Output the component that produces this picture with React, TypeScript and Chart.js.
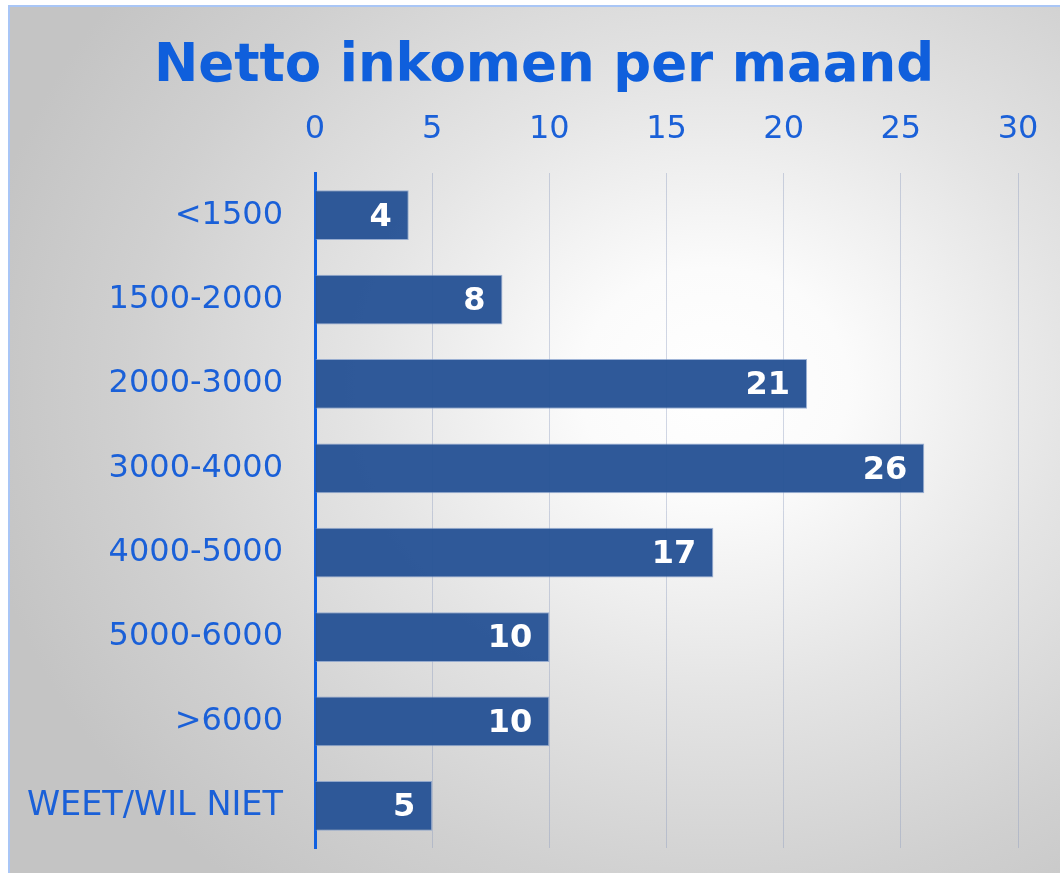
import React, { useEffect, useRef } from "react";
import { Chart, registerables } from "chart.js";

Chart.register(...registerables);

const categories = ["<1500", "1500-2000", "2000-3000", "3000-4000", "4000-5000", "5000-6000", ">6000", "WEET/WIL NIET"];
const values = [4, 8, 21, 26, 17, 10, 10, 5];
const xTicks = [0, 5, 10, 15, 20, 25, 30];
const titleText = "Netto inkomen per maand";

const BLUE = "#0f5fdc";
const BAR = "rgba(40,84,150,0.97)";

const valueLabels = {
  id: "valueLabels",
  afterDatasetsDraw(chart: any) {
    const ctx = chart.ctx;
    const meta = chart.getDatasetMeta(0);
    ctx.save();
    ctx.font = "bold 32px 'DejaVu Sans'";
    ctx.fillStyle = "#ffffff";
    ctx.textAlign = "right";
    ctx.textBaseline = "middle";
    meta.data.forEach((bar: any, i: number) => {
      ctx.fillText(String(values[i]), bar.x - 17, bar.y + 2);
    });
    ctx.restore();
  },
};

const titleDraw = {
  id: "titleDraw",
  afterDraw(chart: any) {
    const ctx = chart.ctx;
    ctx.save();
    ctx.font = "bold 53px 'DejaVu Sans'";
    ctx.fillStyle = BLUE;
    ctx.textAlign = "center";
    ctx.textBaseline = "alphabetic";
    ctx.fillText(titleText, 544, 81);
    ctx.restore();
  },
};

export default function App() {
  const ref = useRef<HTMLCanvasElement>(null);
  useEffect(() => {
    document.body.style.margin = "0";
    const chart = new Chart(ref.current!, {
      type: "bar",
      data: {
        labels: categories,
        datasets: [
          {
            data: values,
            backgroundColor: BAR,
            borderColor: "rgba(120,150,200,0.7)",
            borderWidth: 1,
            borderSkipped: "start",
            categoryPercentage: 1,
            barPercentage: 0.59,
          },
        ],
      },
      options: {
        indexAxis: "y",
        animation: false,
        responsive: false,
        maintainAspectRatio: false,
        layout: { padding: { left: 28, right: 42, top: 110.6, bottom: 25 } },
        plugins: {
          legend: { display: false },
          tooltip: { enabled: false },
          title: { display: false },
        },
        scales: {
          x: {
            position: "top",
            min: 0,
            max: 30,
            z: 1,
            afterBuildTicks(scale: any) {
              scale.ticks = xTicks.map((v) => ({ value: v }));
            },
            afterFit(scale: any) {
              scale.height = 62.4;
              scale.paddingLeft = 0;
              scale.paddingRight = 0;
            },
            ticks: {
              color: "#1a60d8",
              font: { family: "'DejaVu Sans'", size: 32 },
              padding: 24,
              maxRotation: 0,
            },
            grid: {
              color: "rgba(140,155,190,0.4)",
              lineWidth: 1,
              drawTicks: false,
            },
            border: { display: false },
          },
          y: {
            z: 1,
            afterFit(scale: any) {
              scale.width = 287;
              scale.paddingTop = 0;
              scale.paddingBottom = 0;
            },
            ticks: {
              color: "#1a60d8",
              font: (c: any) => ({ family: "'DejaVu Sans'", size: c.index === 7 ? 33.5 : 32 }),
              padding: 32,
            },
            grid: { display: false, drawTicks: false },
            border: { display: true, color: "#1060e0", width: 3 },
          },
        },
      },
      plugins: [valueLabels, titleDraw],
    });
    return () => chart.destroy();
  }, []);

  return (
    <div>
      <div
        style={{
          position: "fixed",
          left: 8,
          top: 5,
          width: 1100,
          height: 900,
          border: "2px solid #a9c6f6",
          background:
            "radial-gradient(ellipse 68% 72% at 64% 42%, #ffffff 0%, #fbfbfb 18%, #e4e4e4 48%, #d0d0d0 78%, #c4c4c4 100%)",
        }}
      />
      <canvas
        ref={ref}
        width={1060}
        height={873}
        style={{ position: "fixed", left: 0, top: 0, width: 1060, height: 873 }}
      />
    </div>
  );
}
